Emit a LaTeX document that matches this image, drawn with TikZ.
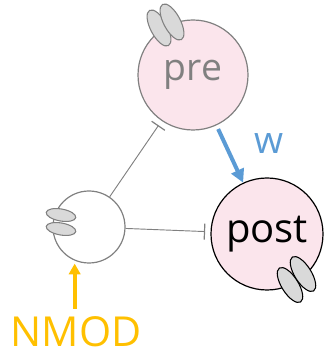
\documentclass[tikz,border=0pt]{standalone}
\usepackage{fontspec}
\setmainfont{Open Sans}
\definecolor{pinkcell}{RGB}{251, 229, 236}
\definecolor{greyline}{RGB}{128, 128, 128}
\definecolor{synfill}{RGB}{217, 217, 217}
\definecolor{bluew}{RGB}{91, 155, 213}
\definecolor{goldmod}{RGB}{255, 192, 0}
\usetikzlibrary{shapes.geometric, arrows.meta, positioning, calc}

\begin{document}
\begin{tikzpicture}[x=0.75pt, y=0.75pt,
    cell/.style={circle, line width=0.9pt, inner sep=0pt},
    syn/.style={ellipse, fill=synfill, line width=0.8pt, inner sep=0pt, minimum width=30pt, minimum height=12.5pt},
    inhib/.style={draw=greyline, line width=0.7pt, -{Bar[width=12pt, line width=0.9pt]}, shorten >=4pt},
    excite/.style={draw=bluew, line width=3pt, -{Triangle[length=10pt, width=10pt]}, shorten <=3pt}]
  \useasboundingbox (0,0) rectangle (326,357);

  % cells
  \node[cell, draw=greyline, fill=pinkcell, minimum size=82.5pt, text=greyline, font=\fontsize{28}{30}\selectfont] (pre) at (193,282) {pre};
  \node[cell, draw=black, fill=pinkcell, minimum size=84pt, font=\fontsize{30}{32}\selectfont] (post) at (267,123) {post};
  \node[cell, draw=greyline, fill=white, minimum size=54pt] (inter) at (89,130) {};

  % synapses
  \node[syn, draw=greyline, rotate=-62] (preA) at (159,329) {};
  \node[syn, draw=greyline, rotate=-62] (preB) at (172,335) {};
  \node[syn, draw=black, rotate=-58] (postA) at (290,72) {};
  \node[syn, draw=black, rotate=-58] (postB) at (303,83) {};
  \node[syn, draw=greyline, rotate=-10, minimum width=22.5pt, minimum height=9pt] (interA) at (61,142) {};
  \node[syn, draw=greyline, rotate=-10, minimum width=22.5pt, minimum height=9pt] (interB) at (61,128) {};

  % connections
  \draw[inhib] (inter) -- (pre);
  \draw[inhib] (inter) -- (post);
  \draw[excite] (pre) -- (post);
  \node[text=bluew, font=\fontsize{28}{30}\selectfont] (w) at (269,213) {w};

  % neuromodulation
  \node[text=goldmod, font=\fontsize{31}{33}\selectfont, inner sep=0pt] (nmod) at (76,25) {NMOD};
  \draw[draw=goldmod, line width=3pt, -{Triangle[length=8pt, width=8.5pt]}, shorten <=6pt]
    ([xshift=-1pt]nmod.north) -- ([xshift=-1pt]nmod.north |- inter.south);
\end{tikzpicture}
\end{document}
